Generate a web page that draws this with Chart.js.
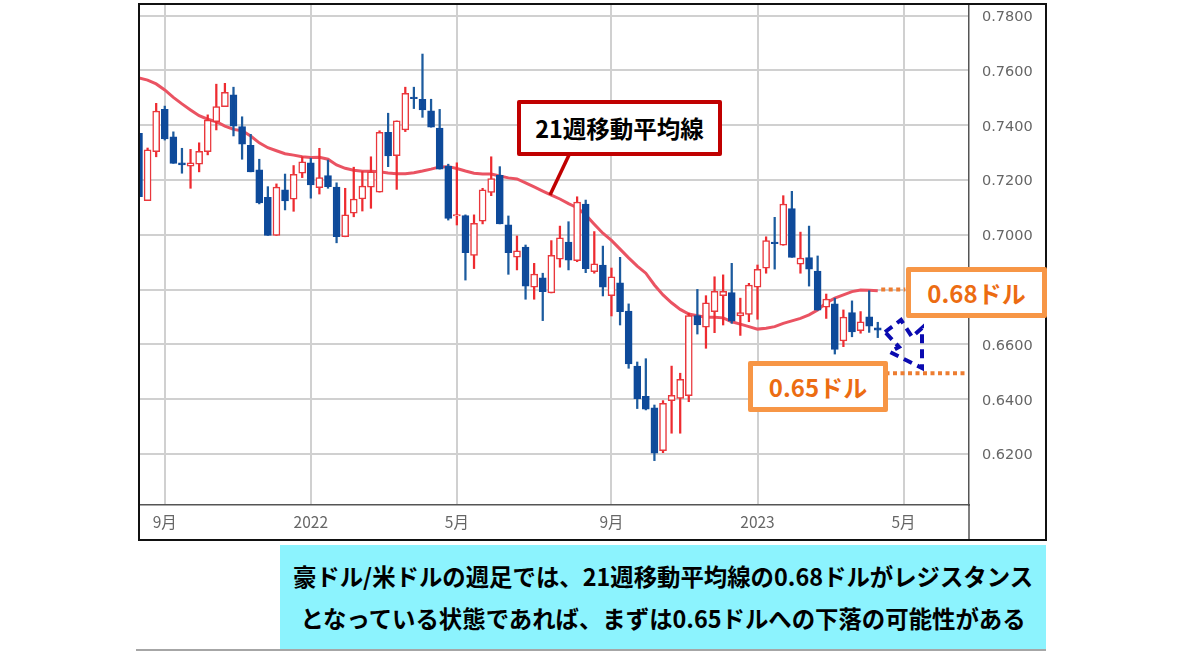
<!DOCTYPE html>
<html lang="ja">
<head>
<meta charset="utf-8">
<title>豪ドル/米ドル 週足</title>
<script src="https://cdn.jsdelivr.net/npm/chart.js@4/dist/chart.umd.min.js"></script>
<style>
    html, body { margin: 0; padding: 0; background: #fff; }
    body { width: 1200px; height: 651px; position: relative; overflow: hidden; font-family: "Noto Sans CJK JP", sans-serif; }
    canvas { position: absolute; left: 0; top: 0; }
    .frame { position: absolute; left: 138px; top: 3px; width: 905px; height: 534px; border: 2px solid #111; }
    .box { position: absolute; box-sizing: border-box; background: #fff; display: flex; align-items: center; justify-content: center; font-weight: 700; white-space: nowrap; }
    .ma-box { left: 517px; top: 100px; width: 205px; height: 56px; border: 4px solid #c00000; border-radius: 2px; color: #000; font-size: 23.5px; }
    .orange { border: 5px solid #f79646; border-radius: 2px; color: #ec6c12; font-size: 24px; }
    .upper { left: 906px; top: 267px; width: 141px; height: 51px; }
    .lower { left: 748px; top: 361px; width: 140px; height: 51px; }
    .caption { position: absolute; left: 280px; top: 545px; width: 766px; height: 104px; background: #8cf3fe; color: #000; font-weight: 700; font-size: 23.4px; text-align: center; }
    .caption div { position: absolute; left: 0; right: 0; white-space: nowrap; }
    .rule { position: absolute; left: 136px; top: 649px; width: 910px; height: 2px; background: #a6a6a6; }
</style>
</head>
<body>
<canvas id="chart" width="1200" height="651"></canvas>
<div class="frame"></div>
<div class="box ma-box">21週移動平均線</div>
<div class="box orange upper">0.68ドル</div>
<div class="box orange lower">0.65ドル</div>
<div class="caption">
    <div style="top: 14px;">豪ドル/米ドルの週足では、21週移動平均線の0.68ドルがレジスタンス</div>
    <div style="top: 56px;">となっている状態であれば、まずは0.65ドルへの下落の可能性がある</div>
</div>
<div class="rule"></div>
<script>
// 週足の四本値（チャートから目視で読み取り）
const opens = [
    0.7371, 0.7125, 0.7304, 0.7458, 0.7358, 0.7263, 0.7251, 0.7258, 0.7304, 0.7413,
    0.7468, 0.7511, 0.7395, 0.7327, 0.7237, 0.7137, 0.6998, 0.7164, 0.7130, 0.7225,
    0.7263, 0.7172, 0.7216, 0.7174, 0.6993, 0.7079, 0.7131, 0.7174, 0.7156, 0.7374,
    0.7289, 0.7383, 0.7503, 0.7495, 0.7453, 0.7390, 0.7251, 0.7069, 0.7070, 0.6925,
    0.7050, 0.7155, 0.7217, 0.7037, 0.6919, 0.6955, 0.6809, 0.6843, 0.6788, 0.6911,
    0.6974, 0.6906, 0.7112, 0.6866, 0.6890, 0.6778, 0.6825, 0.6722, 0.6521, 0.6411,
    0.6369, 0.6212, 0.6395, 0.6403, 0.6413, 0.6705, 0.6663, 0.6720, 0.6778, 0.6789,
    0.6704, 0.6710, 0.6809, 0.6878, 0.6974, 0.6962, 0.7096, 0.6893, 0.6917, 0.6868,
    0.6736, 0.6748, 0.6613, 0.6716, 0.6650, 0.6701, 0.6661
];
const closes = [
    0.7139, 0.7310, 0.7452, 0.7350, 0.7261, 0.7255, 0.7263, 0.7305, 0.7419, 0.7468,
    0.7520, 0.7397, 0.7331, 0.7230, 0.7117, 0.6998, 0.7174, 0.7124, 0.7221, 0.7267,
    0.7182, 0.7209, 0.7176, 0.6993, 0.7073, 0.7131, 0.7178, 0.7230, 0.7374, 0.7288,
    0.7416, 0.7517, 0.7497, 0.7456, 0.7393, 0.7240, 0.7060, 0.7074, 0.6935, 0.7042,
    0.7164, 0.7205, 0.7040, 0.6935, 0.6942, 0.6813, 0.6857, 0.6793, 0.6925, 0.6989,
    0.6908, 0.7120, 0.6877, 0.6894, 0.6809, 0.6847, 0.6720, 0.6529, 0.6402, 0.6364,
    0.6203, 0.6385, 0.6414, 0.6473, 0.6705, 0.6671, 0.6752, 0.6794, 0.6794, 0.6685,
    0.6716, 0.6817, 0.6874, 0.6979, 0.6968, 0.7112, 0.6918, 0.6915, 0.6875, 0.6725,
    0.6766, 0.6582, 0.6700, 0.6646, 0.6683, 0.6667, 0.6652
];
const highs = [
    0.7371, 0.7317, 0.7480, 0.7470, 0.7376, 0.7316, 0.7312, 0.7336, 0.7438, 0.7550,
    0.7553, 0.7539, 0.7431, 0.7367, 0.7276, 0.7176, 0.7186, 0.7222, 0.7253, 0.7285,
    0.7280, 0.7316, 0.7273, 0.7190, 0.7170, 0.7247, 0.7231, 0.7285, 0.7380, 0.7444,
    0.7416, 0.7539, 0.7539, 0.7660, 0.7495, 0.7458, 0.7258, 0.7263, 0.7073, 0.7073,
    0.7170, 0.7285, 0.7249, 0.7069, 0.6996, 0.6963, 0.6896, 0.6860, 0.6979, 0.7032,
    0.7048, 0.7139, 0.7127, 0.7012, 0.6959, 0.6879, 0.6918, 0.6748, 0.6536, 0.6548,
    0.6379, 0.6395, 0.6521, 0.6495, 0.6714, 0.6801, 0.6778, 0.6847, 0.6854, 0.6896,
    0.6769, 0.6823, 0.6890, 0.6993, 0.7064, 0.7143, 0.7159, 0.7010, 0.7032, 0.6923,
    0.6784, 0.6769, 0.6726, 0.6759, 0.6720, 0.6796, 0.6681
];
const lows = [
    0.7139, 0.7125, 0.7285, 0.7346, 0.7261, 0.7225, 0.7170, 0.7230, 0.7292, 0.7383,
    0.7468, 0.7361, 0.7276, 0.7230, 0.7113, 0.6998, 0.6998, 0.7091, 0.7086, 0.7209,
    0.7134, 0.7149, 0.7170, 0.6971, 0.6993, 0.7066, 0.7087, 0.7097, 0.7156, 0.7249,
    0.7166, 0.7377, 0.7461, 0.7429, 0.7393, 0.7240, 0.7054, 0.7036, 0.6835, 0.6877,
    0.7040, 0.7143, 0.7040, 0.6856, 0.6872, 0.6765, 0.6765, 0.6687, 0.6788, 0.6882,
    0.6872, 0.6902, 0.6862, 0.6860, 0.6777, 0.6704, 0.6671, 0.6513, 0.6366, 0.6361,
    0.6176, 0.6205, 0.6276, 0.6276, 0.6391, 0.6638, 0.6586, 0.6643, 0.6671, 0.6677,
    0.6633, 0.6683, 0.6692, 0.6860, 0.6875, 0.6962, 0.6918, 0.6860, 0.6813, 0.6725,
    0.6695, 0.6565, 0.6592, 0.6628, 0.6641, 0.6644, 0.6625
];
// 21週移動平均線
const ma21 = [
    0.7573, 0.7565, 0.7551, 0.7529, 0.7502, 0.7478, 0.7456, 0.7435, 0.7422, 0.7413,
    0.7397, 0.7385, 0.7380, 0.7361, 0.7336, 0.7318, 0.7307, 0.7296, 0.7291, 0.7285,
    0.7282, 0.7283, 0.7276, 0.7255, 0.7243, 0.7236, 0.7232, 0.7232, 0.7230, 0.7226,
    0.7223, 0.7223, 0.7227, 0.7233, 0.7240, 0.7248, 0.7249, 0.7242, 0.7233, 0.7225,
    0.7222, 0.7222, 0.7215, 0.7208, 0.7204, 0.7190, 0.7175, 0.7160, 0.7145, 0.7131,
    0.7114, 0.7099, 0.7073, 0.7039, 0.7006, 0.6980, 0.6948, 0.6916, 0.6886, 0.6860,
    0.6817, 0.6781, 0.6752, 0.6728, 0.6711, 0.6705, 0.6699, 0.6699, 0.6697, 0.6683,
    0.6674, 0.6665, 0.6656, 0.6659, 0.6665, 0.6677, 0.6686, 0.6695, 0.6708, 0.6726,
    0.6752, 0.6769, 0.6781, 0.6793, 0.6799, 0.6798, 0.6796
];

const yTicks = [0.62, 0.64, 0.66, 0.68, 0.70, 0.72, 0.74, 0.76, 0.78];
const xTickWeeks = [3, 20, 37, 55, 72, 89];
const xTickLabels = ['9月', '2022', '5月', '9月', '2023', '5月'];

const resistanceLevel = 0.6801;
const resistanceWeeks = [86.4, 89.2];
const targetLevel = 0.6495;
const targetWeeks = [86.9, 96.3];

const BLUE = '#0e4a9a';
const BLUE_WICK = '#1c5b9e';
const RED = '#e9373c';
const RED_WICK = '#ee2b30';

const isUp = opens.map((o, i) => closes[i] > o);

// 下落イメージの破線矢印
const arrowPlugin = {
    id: 'overlay',
    afterDraw(chart) {
        const ctx = chart.ctx;
        const area = chart.chartArea;
        ctx.save();
        // x軸帯の区切り
        ctx.strokeStyle = '#555';
        ctx.lineWidth = 1.5;
        ctx.beginPath();
        ctx.moveTo(area.right, area.bottom);
        ctx.lineTo(area.right, 540);
        ctx.stroke();
        // 吹き出しの引き出し線
        ctx.strokeStyle = '#c00000';
        ctx.lineWidth = 3.5;
        ctx.beginPath();
        ctx.moveTo(569, 155);
        ctx.lineTo(550, 195);
        ctx.stroke();
        // 矢印
        ctx.strokeStyle = '#0a0ab0';
        ctx.lineWidth = 4;
        ctx.setLineDash([9, 6]);
        ctx.beginPath();
        ctx.moveTo(885, 332);
        ctx.lineTo(901, 320);
        ctx.lineTo(912, 337);
        ctx.lineTo(922, 328);
        ctx.lineTo(922, 368);
        ctx.lineTo(890, 352);
        ctx.lineTo(899, 347);
        ctx.lineTo(885, 332);
        ctx.stroke();
        ctx.restore();
    }
};

new Chart(document.getElementById('chart'), {
    type: 'bar',
    data: {
        datasets: [
            {
                label: '実体',
                order: 1,
                grouped: false,
                data: opens.map((o, i) => ({ x: i, y: [Math.min(o, closes[i]), Math.max(o, closes[i])] })),
                backgroundColor: isUp.map(up => up ? '#fff' : BLUE),
                borderColor: isUp.map(up => up ? RED : BLUE),
                borderWidth: 1.5,
                borderSkipped: false,
                barThickness: 7
            },
            {
                label: 'ヒゲ',
                order: 2,
                grouped: false,
                data: highs.map((h, i) => ({ x: i, y: [lows[i], h] })),
                backgroundColor: isUp.map(up => up ? RED_WICK : BLUE_WICK),
                borderWidth: 0,
                barThickness: 1.6
            },
            {
                type: 'line',
                label: '21週移動平均線',
                order: 3,
                data: ma21.map((v, i) => ({ x: i, y: v })),
                borderColor: '#ea5362',
                borderWidth: 3,
                pointRadius: 0,
                tension: 0
            },
            {
                type: 'line',
                label: '0.68ドル',
                order: 0,
                data: resistanceWeeks.map(w => ({ x: w, y: resistanceLevel })),
                borderColor: '#ed7d31',
                borderWidth: 4,
                borderDash: [4, 3.5],
                pointRadius: 0
            },
            {
                type: 'line',
                label: '0.65ドル',
                order: 0,
                data: targetWeeks.map(w => ({ x: w, y: targetLevel })),
                borderColor: '#ed7d31',
                borderWidth: 4,
                borderDash: [4, 3.5],
                pointRadius: 0
            }
        ]
    },
    options: {
        responsive: false,
        animation: false,
        layout: { padding: { left: 139, top: 5, right: 153, bottom: 111 } },
        plugins: { legend: { display: false }, tooltip: { enabled: false } },
        scales: {
            x: {
                type: 'linear',
                offset: false,
                min: 0,
                max: 96.62,
                afterBuildTicks(scale) {
                    scale.ticks = xTickWeeks.map(w => ({ value: w }));
                },
                afterFit(scale) {
                    scale.height = 35;
                    scale.paddingLeft = 0;
                    scale.paddingRight = 0;
                },
                ticks: {
                    autoSkip: false,
                    maxRotation: 0,
                    padding: 8,
                    color: '#666',
                    font: { family: '"Noto Sans CJK JP", sans-serif', size: 15.5 },
                    callback(value) {
                        return xTickLabels[xTickWeeks.indexOf(value)];
                    }
                },
                grid: { offset: false, color: '#d0d0d0', lineWidth: 2, drawTicks: false },
                border: { display: true, color: '#555', width: 1.5 }
            },
            y: {
                position: 'right',
                min: 0.6014,
                max: 0.7839,
                afterBuildTicks(scale) {
                    scale.ticks = yTicks.map(v => ({ value: v }));
                },
                afterFit(scale) {
                    scale.width = 78;
                    scale.paddingTop = 0;
                    scale.paddingBottom = 0;
                },
                ticks: {
                    padding: 13,
                    labelOffset: 1.5,
                    color: '#666',
                    font: { family: '"DejaVu Sans", sans-serif', size: 14.5 },
                    callback(value) {
                        return value.toFixed(4);
                    }
                },
                grid: { color: '#d0d0d0', lineWidth: 2, drawTicks: false },
                border: { display: true, color: '#555', width: 1.5 }
            }
        }
    },
    plugins: [arrowPlugin]
});
</script>
</body>
</html>
